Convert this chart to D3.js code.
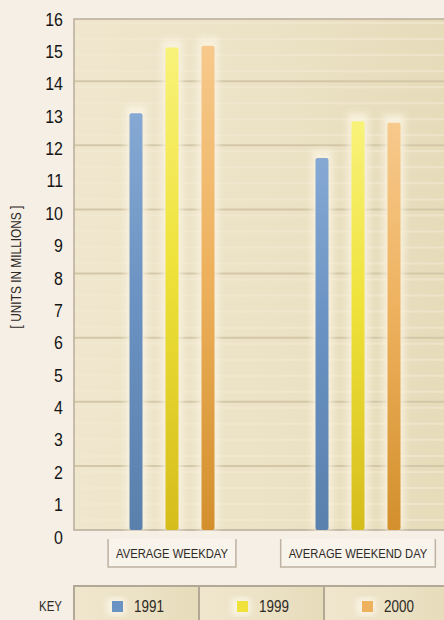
<!DOCTYPE html>
<meta charset="utf-8">
<style>
body { margin: 0; background: #f6efe5; }
svg { display: block; }
.tick-lab { font-family: "Liberation Sans", Arial, sans-serif; font-size: 19px; fill: #151515; }
.narrow { font-family: "Liberation Sans", Arial, sans-serif; fill: #2e2a26; }
</style>
<div id="chart"></div>
<script src="https://d3js.org/d3.v7.min.js"></script>
<script>

// data
var categories = ["AVERAGE WEEKDAY", "AVERAGE WEEKEND DAY"];
var years = ["1991", "1999", "2000"];
var values1991 = [13.0, 11.6];
var values1999 = [15.05, 12.75];
var values2000 = [15.1, 12.7];
var yTicks = d3.range(0, 17);

var series = { "1991": values1991, "1999": values1999, "2000": values2000 };
var colors = {
  "1991": ["#86a9d4", "#6a92c2", "#5a80ad"],
  "1999": ["#f8f27a", "#efe23a", "#d5bd1c"],
  "2000": ["#f7c98c", "#eeb25f", "#d38f2c"]
};

var W = 444, H = 620;
var plot = {left: 74, top: 19, right: 444, bottom: 530};
// no condensed face installed, so text is squeezed horizontally
var SQ = 0.82;

var svg = d3.select("#chart").append("svg")
  .attr("width", W).attr("height", H);

var defs = svg.append("defs");

var bg = defs.append("linearGradient").attr("id", "plotbg")
  .attr("x1", "0").attr("x2", "1").attr("y1", "0").attr("y2", "0");
bg.append("stop").attr("offset", "0").attr("stop-color", "#efe6cd");
bg.append("stop").attr("offset", "0.5").attr("stop-color", "#ece2c6");
bg.append("stop").attr("offset", "1").attr("stop-color", "#e6dcba");

years.forEach(function(yr) {
  var g = defs.append("linearGradient").attr("id", "g" + yr)
    .attr("x1", "0").attr("x2", "0").attr("y1", "0").attr("y2", "1");
  g.append("stop").attr("offset", "0").attr("stop-color", colors[yr][0]);
  g.append("stop").attr("offset", "0.45").attr("stop-color", colors[yr][1]);
  g.append("stop").attr("offset", "1").attr("stop-color", colors[yr][2]);
});

defs.append("filter").attr("id", "glow")
  .attr("x", "-100%").attr("y", "-10%").attr("width", "300%").attr("height", "120%")
  .append("feGaussianBlur").attr("stdDeviation", 3);

// scales
var y = d3.scaleLinear().domain([0, 16]).range([plot.bottom, 17]);
var yLab = d3.scaleLinear().domain([0, 16]).range([537, 19]);
var x0 = d3.scaleBand().domain(categories).range([79, 451]);
var x1 = d3.scaleBand().domain(years)
  .range([x0.bandwidth() / 2 - 54, x0.bandwidth() / 2 + 54]);
var barW = 13;

// plot background
svg.append("rect")
  .attr("x", plot.left).attr("y", plot.top)
  .attr("width", plot.right - plot.left).attr("height", plot.bottom - plot.top)
  .attr("fill", "url(#plotbg)");

// faint horizontal stripes
svg.append("g").selectAll("line")
  .data(d3.range(0, 16, 0.5))
  .join("line")
    .attr("x1", plot.left).attr("x2", plot.right)
    .attr("y1", function(d) { return y(d) - 10; })
    .attr("y2", function(d) { return y(d) - 10; })
    .attr("stroke", "#f3ead4").attr("stroke-width", 2).attr("opacity", 0.6);

// grid lines every 2 units
svg.append("g").selectAll("line")
  .data(d3.range(2, 16, 2))
  .join("line")
    .attr("x1", plot.left).attr("x2", plot.right)
    .attr("y1", function(d) { return y(d); })
    .attr("y2", function(d) { return y(d); })
    .attr("stroke", "#d3c7a8").attr("stroke-width", 2);

// plot frame (left, top, bottom)
svg.append("path")
  .attr("d", "M" + plot.right + "," + plot.top + "H" + plot.left + "V" + plot.bottom + "H" + plot.right)
  .attr("fill", "none").attr("stroke", "#b9ad9b").attr("stroke-width", 1.5);

// bars
var groups = svg.append("g").selectAll("g")
  .data(categories)
  .join("g")
    .attr("transform", function(d) { return "translate(" + x0(d) + ",0)"; });

var bars = groups.selectAll("g")
  .data(function(c, i) { return years.map(function(yr) { return {yr: yr, v: series[yr][i]}; }); })
  .join("g");

bars.append("rect")
  .attr("x", function(d) { return x1(d.yr) + x1.bandwidth() / 2 - barW / 2 - 4; })
  .attr("y", function(d) { return y(d.v) - 8; })
  .attr("width", barW + 8)
  .attr("height", function(d) { return plot.bottom - y(d.v) + 8; })
  .attr("fill", "#fbf4e2").attr("opacity", 0.8)
  .attr("filter", "url(#glow)");

bars.append("rect")
  .attr("x", function(d) { return x1(d.yr) + x1.bandwidth() / 2 - barW / 2; })
  .attr("y", function(d) { return y(d.v); })
  .attr("width", barW)
  .attr("height", function(d) { return plot.bottom - y(d.v); })
  .attr("rx", 2)
  .attr("fill", function(d) { return "url(#g" + d.yr + ")"; });

// y axis labels
var yAxis = svg.append("g")
  .attr("transform", "translate(63,0)")
  .call(d3.axisLeft(yLab).tickValues(yTicks).tickSize(0).tickPadding(0));
yAxis.select(".domain").remove();
yAxis.attr("font-family", null).attr("font-size", null);
yAxis.selectAll("text")
  .attr("class", "tick-lab").attr("fill", null)
  .attr("transform", "scale(0.84,1)");

svg.append("text")
  .attr("class", "narrow")
  .attr("transform", "translate(21,267) rotate(-90) scale(" + SQ + ",1)")
  .attr("text-anchor", "middle")
  .attr("font-size", "14.5px")
  .text("[ UNITS IN MILLIONS ]");

// category label boxes
var cat = svg.append("g").selectAll("g")
  .data(categories)
  .join("g")
    .attr("transform", function(d) { return "translate(" + (x0(d) + x0.bandwidth() / 2) + ",0)"; });

cat.append("text")
  .attr("class", "narrow")
  .attr("text-anchor", "middle")
  .attr("transform", "translate(0,558) scale(" + SQ + ",1)")
  .attr("font-size", "13.7px")
  .text(function(d) { return d; });

cat.each(function() {
  var g = d3.select(this);
  var w = g.select("text").node().getComputedTextLength() * SQ;
  var l = -w / 2 - 8, r = w / 2 + 8;
  g.insert("path", "text")
    .attr("d", "M" + l + ",539V567H" + r + "V539")
    .attr("fill", "#f8f3eb")
    .attr("stroke", "#bdb2a3").attr("stroke-width", 1.5);
});

// legend
var lx = d3.scaleBand().domain(years).range([74, 449]);

svg.append("text")
  .attr("class", "narrow")
  .attr("transform", "translate(62,611) scale(" + SQ + ",1)")
  .attr("text-anchor", "end")
  .attr("font-size", "14px")
  .text("KEY");

var key = svg.append("g").selectAll("g")
  .data(years)
  .join("g")
    .attr("transform", function(d) { return "translate(" + lx(d) + ",0)"; });

key.append("rect")
  .attr("x", 0).attr("y", 586)
  .attr("width", lx.bandwidth()).attr("height", 40)
  .attr("fill", "url(#plotbg)")
  .attr("stroke", "#b3a795").attr("stroke-width", 2);

key.append("rect")
  .attr("x", 33).attr("y", 598)
  .attr("width", 18).attr("height", 17)
  .attr("fill", "#fbf5e6").attr("filter", "url(#glow)");

key.append("rect")
  .attr("x", 38).attr("y", 601)
  .attr("width", 11).attr("height", 11)
  .attr("fill", function(d) { return colors[d][1]; });

key.append("text")
  .attr("class", "narrow")
  .attr("transform", "translate(60,612) scale(0.84,1)")
  .attr("font-size", "16px")
  .text(function(d) { return d; });

</script>
